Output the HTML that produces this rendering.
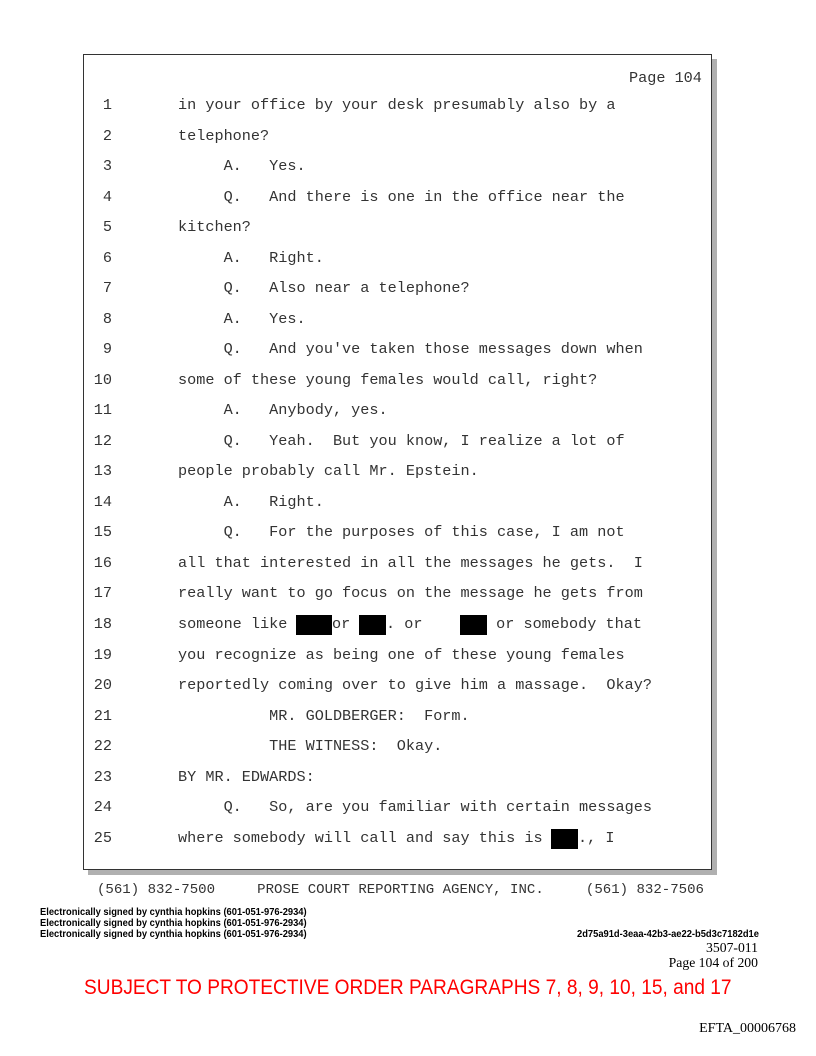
<!DOCTYPE html>
<html><head><meta charset="utf-8"><style>
body{margin:0;background:#fff;}
.pg{position:relative;width:816px;height:1056px;overflow:hidden;background:#fff;}
.shadow{position:absolute;left:88px;top:59px;width:629px;height:816px;background:#b0b0b0;}
.box{position:absolute;left:83px;top:54px;width:627px;height:814px;border:1px solid #333;background:#fff;}
.m{position:absolute;font-family:"Liberation Mono",monospace;font-size:15.2px;color:#333;white-space:pre;line-height:18px;}
.n{position:absolute;width:30px;text-align:right;left:82px;font-family:"Liberation Mono",monospace;font-size:15.2px;color:#333;line-height:18px;}
.r{display:inline-block;background:#000;height:17px;vertical-align:-4px;}
.s{position:absolute;left:40px;font-family:"Liberation Sans",sans-serif;font-weight:bold;font-size:10.4px;line-height:11px;transform:scaleX(0.9);transform-origin:left;white-space:nowrap;}
.t{position:absolute;font-family:"Liberation Serif",serif;font-size:13.7px;right:58px;}
</style></head><body><div class="pg">
<div class="shadow"></div><div class="box"></div>
<div class="m" style="left:629px;top:69px">Page 104</div>

<div class="n" style="top:96px">1</div><div class="m" style="left:178px;top:96px">in your office by your desk presumably also by a</div>
<div class="n" style="top:127px">2</div><div class="m" style="left:178px;top:127px">telephone?</div>
<div class="n" style="top:157px">3</div><div class="m" style="left:178px;top:157px">     A.   Yes.</div>
<div class="n" style="top:188px">4</div><div class="m" style="left:178px;top:188px">     Q.   And there is one in the office near the</div>
<div class="n" style="top:218px">5</div><div class="m" style="left:178px;top:218px">kitchen?</div>
<div class="n" style="top:249px">6</div><div class="m" style="left:178px;top:249px">     A.   Right.</div>
<div class="n" style="top:279px">7</div><div class="m" style="left:178px;top:279px">     Q.   Also near a telephone?</div>
<div class="n" style="top:310px">8</div><div class="m" style="left:178px;top:310px">     A.   Yes.</div>
<div class="n" style="top:340px">9</div><div class="m" style="left:178px;top:340px">     Q.   And you've taken those messages down when</div>
<div class="n" style="top:371px">10</div><div class="m" style="left:178px;top:371px">some of these young females would call, right?</div>
<div class="n" style="top:401px">11</div><div class="m" style="left:178px;top:401px">     A.   Anybody, yes.</div>
<div class="n" style="top:432px">12</div><div class="m" style="left:178px;top:432px">     Q.   Yeah.  But you know, I realize a lot of</div>
<div class="n" style="top:462px">13</div><div class="m" style="left:178px;top:462px">people probably call Mr. Epstein.</div>
<div class="n" style="top:493px">14</div><div class="m" style="left:178px;top:493px">     A.   Right.</div>
<div class="n" style="top:523px">15</div><div class="m" style="left:178px;top:523px">     Q.   For the purposes of this case, I am not</div>
<div class="n" style="top:554px">16</div><div class="m" style="left:178px;top:554px">all that interested in all the messages he gets.  I</div>
<div class="n" style="top:584px">17</div><div class="m" style="left:178px;top:584px">really want to go focus on the message he gets from</div>
<div class="n" style="top:615px">18</div><div class="m" style="left:178px;top:615px">someone like </div>
<div class="r" style="position:absolute;left:296px;top:615px;width:36px;height:20px"></div>
<div class="m" style="left:332px;top:615px">or</div>
<div class="r" style="position:absolute;left:359px;top:615px;width:27px;height:20px"></div>
<div class="m" style="left:386px;top:615px">. or</div>
<div class="r" style="position:absolute;left:460px;top:615px;width:27px;height:20px"></div>
<div class="m" style="left:487px;top:615px"> or somebody that</div>
<div class="n" style="top:646px">19</div><div class="m" style="left:178px;top:646px">you recognize as being one of these young females</div>
<div class="n" style="top:676px">20</div><div class="m" style="left:178px;top:676px">reportedly coming over to give him a massage.  Okay?</div>
<div class="n" style="top:707px">21</div><div class="m" style="left:178px;top:707px">          MR. GOLDBERGER:  Form.</div>
<div class="n" style="top:737px">22</div><div class="m" style="left:178px;top:737px">          THE WITNESS:  Okay.</div>
<div class="n" style="top:768px">23</div><div class="m" style="left:178px;top:768px">BY MR. EDWARDS:</div>
<div class="n" style="top:798px">24</div><div class="m" style="left:178px;top:798px">     Q.   So, are you familiar with certain messages</div>
<div class="n" style="top:829px">25</div><div class="m" style="left:178px;top:829px">where somebody will call and say this is </div>
<div class="r" style="position:absolute;left:551px;top:829px;width:27px;height:20px"></div>
<div class="m" style="left:578px;top:829px">., I</div>

<div class="m" style="left:97px;top:881px;font-size:14.05px">(561) 832-7500     PROSE COURT REPORTING AGENCY, INC.     (561) 832-7506</div>

<div class="s" style="top:907px">Electronically signed by cynthia hopkins (601-051-976-2934)</div>
<div class="s" style="top:918px">Electronically signed by cynthia hopkins (601-051-976-2934)</div>
<div class="s" style="top:929px">Electronically signed by cynthia hopkins (601-051-976-2934)</div>
<div class="s" style="top:929px;left:577px">2d75a91d-3eaa-42b3-ae22-b5d3c7182d1e</div>
<div class="t" style="top:940px">3507-011</div>
<div class="t" style="top:955px">Page 104 of 200</div>
<div style="position:absolute;left:0;width:816px;top:976px;text-align:center;font-family:'Liberation Sans',sans-serif;font-size:21px;color:#f00;"><span style="display:inline-block;transform:scaleX(0.91)">SUBJECT TO PROTECTIVE ORDER PARAGRAPHS 7, 8, 9, 10, 15, and 17</span></div>
<div style="position:absolute;right:20px;top:1021px;font-family:'Liberation Serif',serif;font-size:14px">EFTA_00006768</div>
</div></body></html>
